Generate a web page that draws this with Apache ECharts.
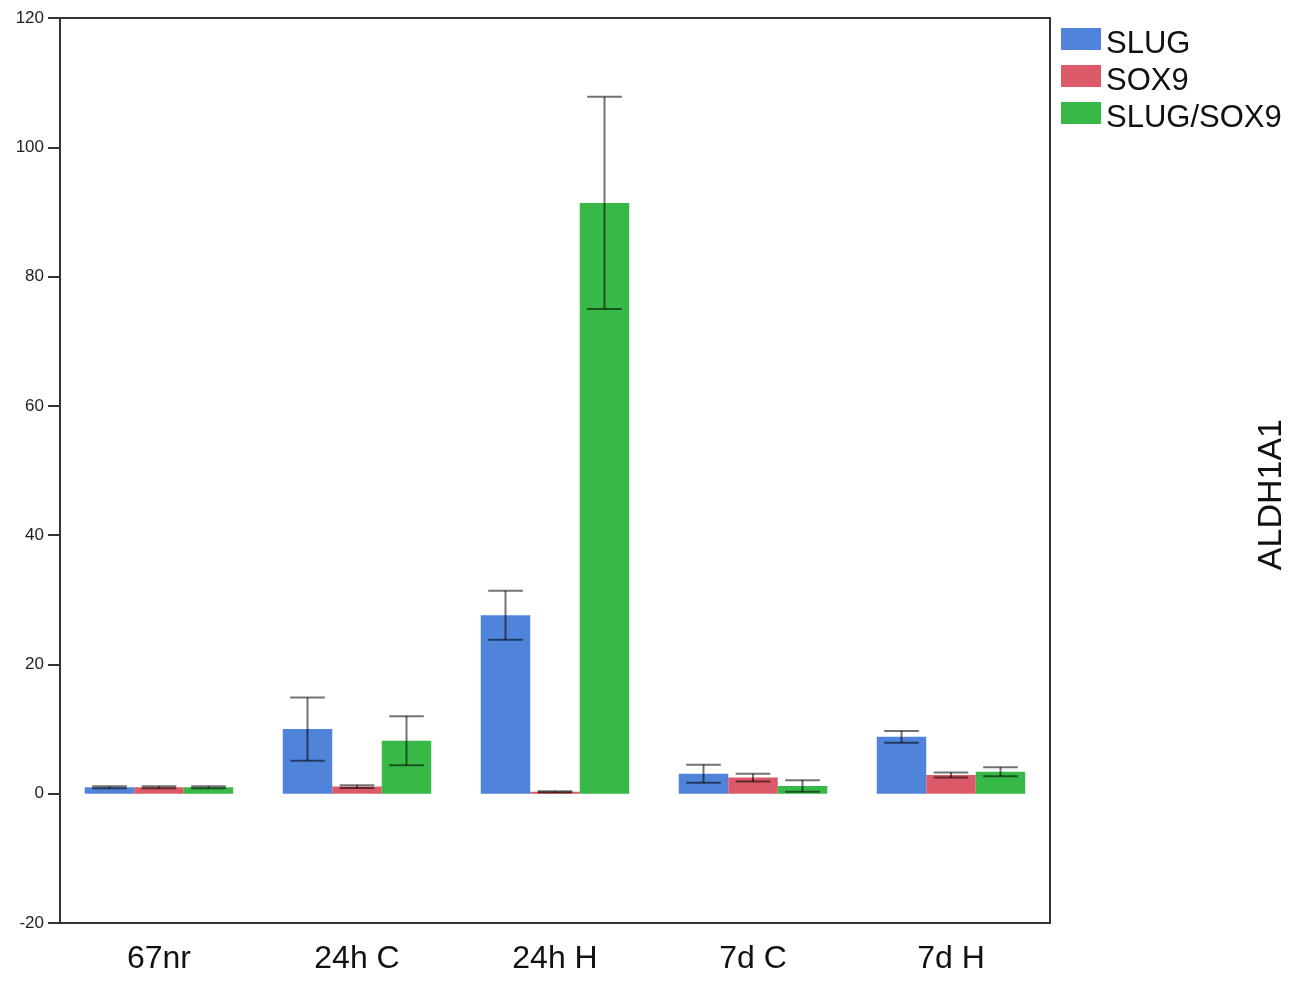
<!DOCTYPE html>
<html>
<head>
<meta charset="utf-8">
<script src="https://cdn.jsdelivr.net/npm/echarts@6/dist/echarts.min.js"></script>
<style>
  html, body { margin: 0; padding: 0; background: #fff; }
  #chart { width: 1294px; height: 982px; }
</style>
</head>
<body>
<div id="chart"></div>
<script>
// Expression groups and mean values per marker
const categories = ['67nr', '24h C', '24h H', '7d C', '7d H'];
const seriesNames = ['SLUG', 'SOX9', 'SLUG/SOX9'];
const slugMean = [1.0, 10.0, 27.6, 3.1, 8.8];
const sox9Mean = [1.0, 1.1, 0.3, 2.5, 2.9];
const slugSox9Mean = [1.0, 8.2, 91.4, 1.2, 3.4];
// Error (± half-range) for each mean
const slugErr = [0.15, 4.9, 3.8, 1.4, 0.9];
const sox9Err = [0.15, 0.2, 0.1, 0.6, 0.4];
const slugSox9Err = [0.15, 3.8, 16.4, 0.9, 0.7];
const yTicks = [-20, 0, 20, 40, 60, 80, 100, 120];

const colors = ['#4f84da', '#dc5a68', '#36b947'];
const means = [slugMean, sox9Mean, slugSox9Mean];
const errs = [slugErr, sox9Err, slugSox9Err];
const categoryGap = 0.25;
const font = 'Liberation Sans, Arial, sans-serif';

const chart = echarts.init(document.getElementById('chart'));

const barSeries = seriesNames.map((name, i) => ({
  name: name,
  type: 'bar',
  data: means[i],
  barGap: '0%',
  barCategoryGap: (categoryGap * 100) + '%',
  itemStyle: { color: colors[i] },
  z: 2
}));

const errorSeries = seriesNames.map((name, i) => ({
  type: 'custom',
  name: name + ' err',
  data: means[i].map((m, k) => [k, m - errs[i][k], m + errs[i][k]]),
  z: 5,
  silent: true,
  renderItem: function (params, api) {
    const k = api.value(0);
    const band = api.size([1, 0])[0];
    const barW = band * (1 - categoryGap) / 3;
    const offset = (i - 1) * barW;
    const lo = api.coord([k, api.value(1)]);
    const hi = api.coord([k, api.value(2)]);
    const x = lo[0] + offset;
    const cap = barW * 0.7 / 2;
    const style = { stroke: 'rgba(0,0,0,0.55)', lineWidth: 2 };
    return {
      type: 'group',
      children: [
        { type: 'line', shape: { x1: x, y1: hi[1], x2: x, y2: lo[1] }, style: style },
        { type: 'line', shape: { x1: x - cap, y1: hi[1], x2: x + cap, y2: hi[1] }, style: style },
        { type: 'line', shape: { x1: x - cap, y1: lo[1], x2: x + cap, y2: lo[1] }, style: style }
      ]
    };
  }
}));

chart.setOption({
  animation: false,
  backgroundColor: '#ffffff',
  textStyle: { fontFamily: font },
  grid: {
    left: 60, top: 18, right: 244, bottom: 59,
    show: true, borderColor: '#333', borderWidth: 2, backgroundColor: 'transparent'
  },
  legend: {
    data: seriesNames,
    orient: 'vertical',
    left: 1056,
    top: 13,
    itemWidth: 40,
    itemHeight: 22,
    itemGap: -5,
    formatter: '{t|{name}}',
    textStyle: {
      rich: {
        t: { fontSize: 31, color: '#111', lineHeight: 20, padding: [11, 0, 0, 0], fontFamily: font }
      }
    },
    icon: 'rect'
  },
  xAxis: {
    type: 'category',
    data: categories,
    axisLine: { show: true, onZero: false, lineStyle: { color: '#333', width: 2 } },
    axisTick: { show: false },
    axisLabel: { fontSize: 32, color: '#111', margin: 20 },
    splitLine: { show: false }
  },
  yAxis: {
    type: 'value',
    min: yTicks[0],
    max: yTicks[yTicks.length - 1],
    interval: 20,
    axisLine: { show: true, lineStyle: { color: '#333', width: 2 } },
    axisTick: { show: true, length: 12, lineStyle: { color: '#333', width: 2 } },
    axisLabel: { fontSize: 17, color: '#222', margin: 16 },
    splitLine: { show: false }
  },
  graphic: [{
    type: 'text',
    left: 1255,
    top: 419,
    rotation: Math.PI / 2,
    style: {
      text: 'ALDH1A1',
      fontSize: 34,
      fill: '#111',
      fontFamily: font
    }
  }],
  series: barSeries.concat(errorSeries)
});
</script>
</body>
</html>
